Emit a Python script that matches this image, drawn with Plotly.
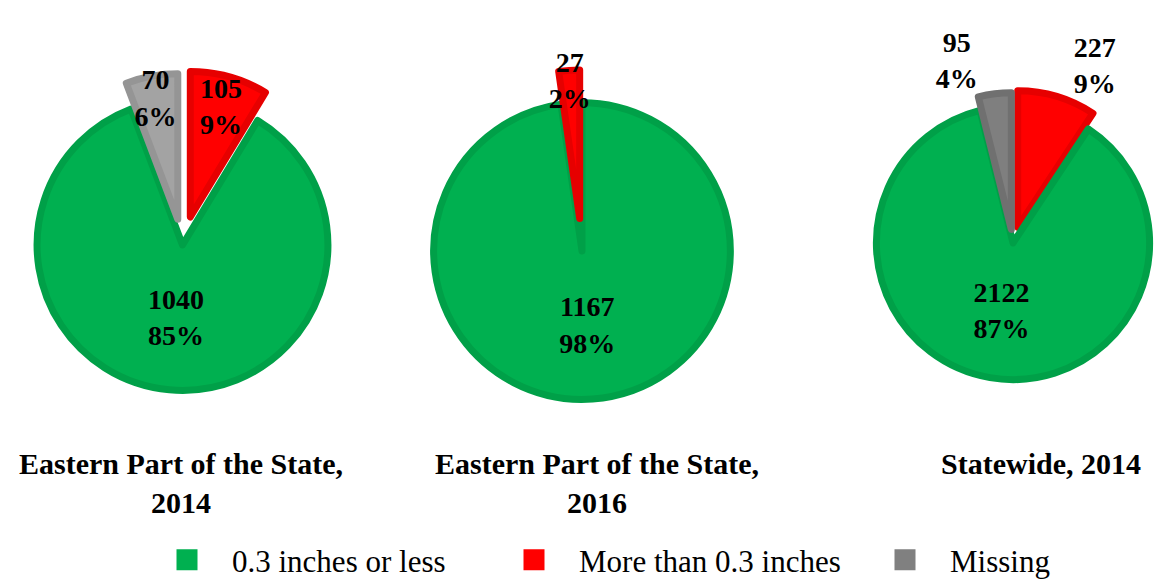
import plotly.graph_objects as go

# ---- data ----
legend_order = ["0.3 inches or less", "More than 0.3 inches", "Missing"]

titles = ["Eastern Part of the State,<br>2014", "Eastern Part of the State,<br>2016", "Statewide, 2014"]

east2014_labels = ["More than 0.3 inches", "0.3 inches or less", "Missing"]
east2014_values = [105, 1040, 70]
east2014_pct = ["9%", "85%", "6%"]

east2016_labels = ["0.3 inches or less", "More than 0.3 inches"]
east2016_values = [1167, 27]
east2016_pct = ["98%", "2%"]

state2014_labels = ["More than 0.3 inches", "0.3 inches or less", "Missing"]
state2014_values = [227, 2122, 95]
state2014_pct = ["9%", "87%", "4%"]

# ---- styles ----
GREEN, GREEN_D = "#00B050", "#00A048"
RED, RED_D = "#FF0000", "#E60000"
GRAY1, GRAY1_D = "#A3A3A3", "#959595"
GRAY3, GRAY3_D = "#7F7F7F", "#707070"
LEG_COLORS = {"0.3 inches or less": GREEN, "More than 0.3 inches": RED, "Missing": "#808080"}
LEG_X = {"0.3 inches or less": 142, "More than 0.3 inches": 489, "Missing": 860}
LEG_ID = {"0.3 inches or less": "legend", "More than 0.3 inches": "legend2", "Missing": "legend3"}

# page body has an 8px margin; positions below are in window pixels
OFF = 8
W, H = 1166 - OFF, 580 - OFF
FONT = "Liberation Serif"


def px_x(x):
    return (x - OFF) / W


def px_y(y):
    return 1 - (y - OFF) / H


def dom_x(cx, half):
    return [max(0, px_x(cx - half)), min(1, px_x(cx + half))]


def dom_y(cy, half):
    return [max(0, px_y(cy + half)), min(1, px_y(cy - half))]


fig = go.Figure()

pies = [
    dict(labels=east2014_labels, values=east2014_values, pct=east2014_pct,
         colors=[RED, GREEN, GRAY1], lines=[RED_D, GREEN_D, GRAY1_D], pull=[0.2, 0, 0.18],
         pos=["inside", "inside", "inside"], direction="clockwise", cx=179, cy=245, half=178),
    dict(labels=east2016_labels, values=east2016_values, pct=east2016_pct,
         colors=[GREEN, RED], lines=[GREEN_D, RED_D], pull=[0, 0.22],
         pos=["inside", "inside"], direction="counterclockwise", cx=582, cy=251, half=181),
    dict(labels=state2014_labels, values=state2014_values, pct=state2014_pct,
         colors=[RED, GREEN, GRAY3], lines=[RED_D, GREEN_D, GRAY3_D], pull=[0.12, 0, 0.1],
         pos=["outside", "inside", "outside"], direction="clockwise", cx=1013, cy=243, half=153),
]

for p in pies:
    tf = dict(family=FONT, size=28, color="black", weight="bold")
    fig.add_trace(go.Pie(
        labels=p["labels"],
        values=p["values"],
        text=p["pct"],
        texttemplate="%{value}<br>%{text}",
        textposition=p["pos"],
        insidetextorientation="horizontal",
        sort=False,
        direction=p["direction"],
        rotation=0,
        pull=p["pull"],
        marker=dict(colors=p["colors"], line=dict(color=p["lines"], width=7)),
        textfont=tf, outsidetextfont=tf, insidetextfont=tf,
        domain=dict(x=dom_x(p["cx"], p["half"]), y=dom_y(p["cy"], p["half"])),
        showlegend=False,
        hoverinfo="label+value+percent",
    ))

# legend proxies (one legend per entry so each can be placed)
for name in legend_order:
    fig.add_trace(go.Scatter(
        x=[None], y=[None], mode="markers", name=name, legend=LEG_ID[name],
        marker=dict(symbol="square", size=16, color=LEG_COLORS[name],
                    line=dict(color=LEG_COLORS[name], width=5)),
    ))

title_x = [181, 597, 1041]
for t, x in zip(titles, title_x):
    fig.add_annotation(
        text=t, x=px_x(x), y=px_y(445), xref="paper", yref="paper",
        xanchor="center", yanchor="top", showarrow=False, align="center",
        font=dict(family=FONT, size=30, color="black", weight="bold"),
    )

legend_style = dict(orientation="h", xanchor="left", yanchor="middle",
                    y=px_y(560),
                    font=dict(family=FONT, size=31, color="black"),
                    itemwidth=80, bgcolor="rgba(0,0,0,0)")
layout_legends = {}
for name in legend_order:
    layout_legends[LEG_ID[name]] = dict(legend_style, x=px_x(LEG_X[name]))

fig.update_layout(
    width=W, height=H,
    margin=dict(l=0, r=0, t=0, b=0, autoexpand=False),
    paper_bgcolor="white", plot_bgcolor="white",
    xaxis=dict(visible=False), yaxis=dict(visible=False),
    uniformtext=dict(minsize=28, mode="show"),
    showlegend=True,
    **layout_legends,
)

fig.write_html("out.html")
